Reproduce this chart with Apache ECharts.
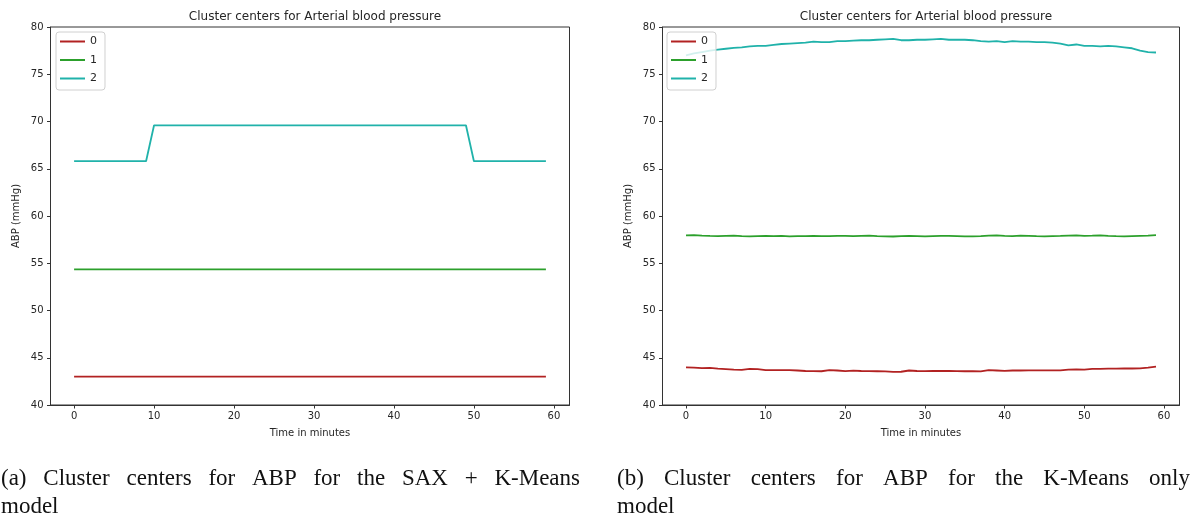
<!DOCTYPE html>
<html>
<head>
<meta charset="utf-8">
<script src="https://cdn.jsdelivr.net/npm/echarts@6/dist/echarts.min.js"></script>
<style>
html,body{margin:0;padding:0;background:#fff;}
#chart{width:1194px;height:521px;}
</style>
</head>
<body>
<div id="chart"></div>
<script>
// ---------- data ----------
const minutes = Array.from({length: 60}, (_, i) => i);
const seriesNames = ['0', '1', '2'];
const xTicks = [0, 10, 20, 30, 40, 50, 60];
const chartTitle = 'Cluster centers for Arterial blood pressure';
const xAxisName = 'Time in minutes';
const yAxisName = 'ABP (mmHg)';
const captionA = ['(a) Cluster centers for ABP for the SAX + K-Means', 'model'];
const captionB = ['(b) Cluster centers for ABP for the K-Means only', 'model'];

// SAX + K-Means model
const sax0 = [43,43,43,43,43,43,43,43,43,43,43,43,43,43,43,43,43,43,43,43,
              43,43,43,43,43,43,43,43,43,43,43,43,43,43,43,43,43,43,43,43,
              43,43,43,43,43,43,43,43,43,43,43,43,43,43,43,43,43,43,43,43];
const sax1 = [54.35,54.35,54.35,54.35,54.35,54.35,54.35,54.35,54.35,54.35,54.35,54.35,54.35,54.35,54.35,54.35,54.35,54.35,54.35,54.35,
              54.35,54.35,54.35,54.35,54.35,54.35,54.35,54.35,54.35,54.35,54.35,54.35,54.35,54.35,54.35,54.35,54.35,54.35,54.35,54.35,
              54.35,54.35,54.35,54.35,54.35,54.35,54.35,54.35,54.35,54.35,54.35,54.35,54.35,54.35,54.35,54.35,54.35,54.35,54.35,54.35];
const sax2 = [65.8,65.8,65.8,65.8,65.8,65.8,65.8,65.8,65.8,65.8,
              69.6,69.6,69.6,69.6,69.6,69.6,69.6,69.6,69.6,69.6,
              69.6,69.6,69.6,69.6,69.6,69.6,69.6,69.6,69.6,69.6,
              69.6,69.6,69.6,69.6,69.6,69.6,69.6,69.6,69.6,69.6,
              69.6,69.6,69.6,69.6,69.6,69.6,69.6,69.6,69.6,69.6,
              65.8,65.8,65.8,65.8,65.8,65.8,65.8,65.8,65.8,65.8];

// K-Means only model
const km0 = [43.98,43.95,43.9,43.92,43.85,43.8,43.75,43.72,43.83,43.8,
             43.7,43.7,43.68,43.7,43.65,43.6,43.58,43.57,43.7,43.65,
             43.58,43.63,43.6,43.58,43.57,43.55,43.5,43.52,43.65,43.6,
             43.58,43.6,43.6,43.6,43.58,43.57,43.57,43.55,43.68,43.65,
             43.62,43.65,43.65,43.66,43.67,43.67,43.67,43.66,43.75,43.76,
             43.75,43.82,43.82,43.84,43.85,43.86,43.86,43.88,43.95,44.05];
const km1 = [57.95,57.97,57.93,57.9,57.88,57.9,57.92,57.88,57.85,57.88,
             57.9,57.88,57.9,57.85,57.87,57.88,57.9,57.88,57.87,57.9,
             57.9,57.88,57.9,57.92,57.88,57.85,57.83,57.87,57.9,57.88,
             57.85,57.88,57.9,57.9,57.87,57.84,57.85,57.88,57.92,57.95,
             57.9,57.88,57.92,57.9,57.87,57.85,57.88,57.9,57.93,57.95,
             57.9,57.92,57.95,57.9,57.87,57.85,57.88,57.9,57.92,57.97];
const km2 = [77.0,77.2,77.35,77.5,77.6,77.7,77.8,77.85,77.95,78.0,
             78.0,78.1,78.2,78.25,78.3,78.35,78.45,78.4,78.4,78.5,
             78.5,78.55,78.6,78.6,78.65,78.7,78.75,78.6,78.6,78.65,
             78.65,78.7,78.75,78.65,78.65,78.65,78.6,78.5,78.45,78.5,
             78.4,78.5,78.45,78.45,78.4,78.4,78.35,78.25,78.05,78.15,
             78.0,78.0,77.95,78.0,77.95,77.85,77.75,77.5,77.35,77.3];

// ---------- styling ----------
const colors = ['#b22222', '#2ca02c', '#20b2aa'];
const FONT = 'DejaVu Sans';
const SERIF = 'Liberation Serif';
const INK = '#262626';

const chart = echarts.init(document.getElementById('chart'), null, {renderer: 'canvas'});

const grids = [
  {left: 50.5, top: 27, width: 519, height: 378},
  {left: 662.5, top: 27, width: 517, height: 378}
];

function makeX(gi) {
  return {
    type: 'value', gridIndex: gi, min: -2.95, max: 61.95,
    name: xAxisName, nameLocation: 'middle', nameGap: 23,
    nameTextStyle: {fontFamily: FONT, fontSize: 10, color: INK},
    axisLine: {show: true, onZero: false, lineStyle: {color: '#333', width: 1}},
    axisTick: {show: true, length: 3.5, lineStyle: {color: '#333'}, customValues: xTicks},
    axisLabel: {fontFamily: FONT, fontSize: 10, color: INK, margin: 6, customValues: xTicks},
    splitLine: {show: false}
  };
}
function makeY(gi) {
  return {
    type: 'value', gridIndex: gi, min: 40, max: 80, interval: 5,
    name: yAxisName, nameLocation: 'middle', nameGap: 29,
    nameTextStyle: {fontFamily: FONT, fontSize: 10, color: INK},
    axisLine: {show: true, onZero: false, lineStyle: {color: '#333', width: 1}},
    axisTick: {show: true, length: 3.5, lineStyle: {color: '#333'}},
    axisLabel: {fontFamily: FONT, fontSize: 10, color: INK, margin: 7},
    splitLine: {show: false}
  };
}
function makeSeries(gi, arrs) {
  return arrs.map((arr, k) => ({
    type: 'line', name: seriesNames[k], xAxisIndex: gi, yAxisIndex: gi,
    data: minutes.map((m, i) => [m, arr[i]]),
    symbol: 'none', smooth: false, animation: false,
    lineStyle: {color: colors[k], width: 1.8},
    itemStyle: {color: colors[k]}
  }));
}
function makeLegend(left) {
  return {
    left: left, top: 32, orient: 'vertical',
    data: seriesNames, icon: 'rect', itemWidth: 25, itemHeight: 2, itemGap: 7.5,
    padding: [4, 8, 6, 4], backgroundColor: 'rgba(255,255,255,0.8)',
    borderColor: '#d0d0d0', borderWidth: 1, borderRadius: 3,
    textStyle: {fontFamily: FONT, fontSize: 11, color: INK},
    selectedMode: false
  };
}

// justified caption words
const measureCtx = document.createElement('canvas').getContext('2d');
function captionLine(text, x0, x1, y, justify, size) {
  const font = size + 'px "' + SERIF + '"';
  measureCtx.font = font;
  const words = text.split(' ');
  const widths = words.map(w => measureCtx.measureText(w).width);
  const total = widths.reduce((a, b) => a + b, 0);
  const gap = (justify && words.length > 1) ? (x1 - x0 - total) / (words.length - 1) : measureCtx.measureText(' ').width;
  let x = x0;
  return words.map((w, i) => {
    const el = {type: 'text', x: x, y: y, silent: true,
      style: {text: w, fontFamily: SERIF, fontSize: size, fill: '#111', verticalAlign: 'middle', align: 'left'}};
    x += widths[i] + gap;
    return el;
  });
}
const capSize = 23;
const graphics = [].concat(
  captionLine(captionA[0], 1, 580, 479, true, capSize),
  captionLine(captionA[1], 1, 580, 507, false, capSize),
  captionLine(captionB[0], 617, 1190, 479, true, capSize),
  captionLine(captionB[1], 617, 1190, 507, false, capSize)
);

const option = {
  animation: false,
  backgroundColor: '#fff',
  textStyle: {fontFamily: FONT},
  title: [
    {text: chartTitle, left: grids[0].left + grids[0].width / 2, top: 6, textAlign: 'center',
     textStyle: {fontFamily: FONT, fontSize: 12, fontWeight: 'normal', color: INK}},
    {text: chartTitle, left: grids[1].left + grids[1].width / 2, top: 6, textAlign: 'center',
     textStyle: {fontFamily: FONT, fontSize: 12, fontWeight: 'normal', color: INK}}
  ],
  grid: grids.map(g => Object.assign({show: true, borderColor: '#333', borderWidth: 1, backgroundColor: 'transparent'}, g)),
  legend: [makeLegend(56), makeLegend(667)],
  xAxis: [makeX(0), makeX(1)],
  yAxis: [makeY(0), makeY(1)],
  series: [].concat(makeSeries(0, [sax0, sax1, sax2]), makeSeries(1, [km0, km1, km2])),
  graphic: graphics
};
chart.setOption(option);
</script>
</body>
</html>
